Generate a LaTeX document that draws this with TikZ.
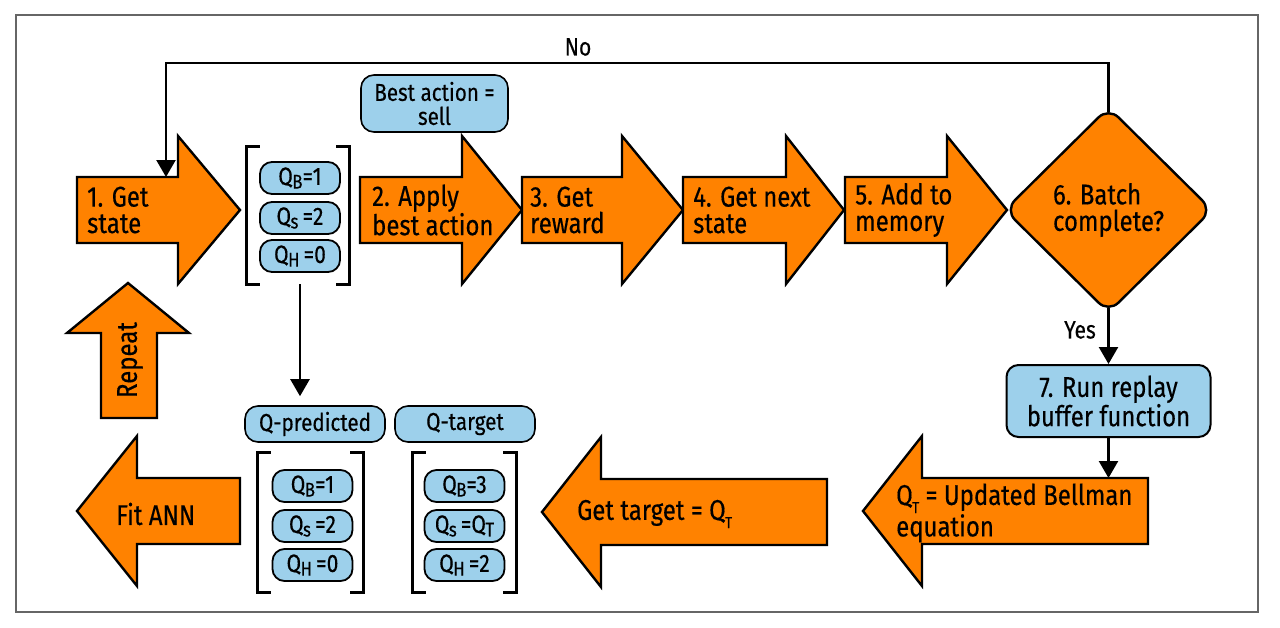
\documentclass[tikz,border=0pt]{standalone}
\usepackage{fontspec}
\setmainfont{Fira Sans}[FakeStretch=0.84,FakeBold=0.35]
\usetikzlibrary{shapes.geometric,arrows.meta}
\definecolor{orng}{HTML}{FF8200}
\definecolor{lblue}{HTML}{9DD0EB}
\newcommand{\qsb}[1]{\kern-0.5pt\raisebox{-0.28ex}{\fontsize{20}{20}\selectfont #1}}
\newcommand{\qtsb}[1]{\kern-0.5pt\raisebox{-0.55ex}{\fontsize{16}{16}\selectfont #1}}
\newcommand{\rarw}[4]{\draw[bigarrow] (#1,{#4-33}) -- (#2,{#4-33}) -- (#2,{#4-74}) -- (#3,#4) -- (#2,{#4+74}) -- (#2,{#4+33}) -- (#1,{#4+33}) -- cycle;}
\newcommand{\larw}[4]{\draw[bigarrow] (#1,{#4-33}) -- (#2,{#4-33}) -- (#2,{#4-75}) -- (#3,#4) -- (#2,{#4+75}) -- (#2,{#4+33}) -- (#1,{#4+33}) -- cycle;}
\newcommand{\brackets}[1]{%
  \draw[brk] ([xshift=13pt]#1.north west) -- (#1.north west) -- (#1.south west) -- ([xshift=13pt]#1.south west);
  \draw[brk] ([xshift=-13pt]#1.north east) -- (#1.north east) -- (#1.south east) -- ([xshift=-13pt]#1.south east);}
\begin{document}
\begin{tikzpicture}[x=1pt,y=-1pt,
  bigarrow/.style={draw=black,line width=2.4pt,fill=orng,line join=miter},
  lbl/.style={font=\fontsize{28.5}{26.5}\selectfont,align=left,inner sep=0pt},
  pill/.style={draw=black,line width=1.8pt,fill=lblue,rounded corners=12pt,minimum width=80pt,minimum height=32pt,inner sep=0pt,font=\fontsize{25}{25}\selectfont},
  tag/.style={draw=black,line width=1.6pt,fill=lblue,rounded corners=13pt,inner sep=0pt,font=\fontsize{24.5}{24}\selectfont,align=center},
  grp/.style={minimum width=#1,inner sep=0pt,minimum height=137pt},
  brk/.style={line width=3pt},
  conn/.style={line width=2.4pt,-{Triangle[width=19pt,length=17pt]}},
  small/.style={font=\fontsize{25}{25}\selectfont,inner sep=0pt}
]
\useasboundingbox (0,0) rectangle (1280,627);
\draw[gray!80!black,line width=1.5pt] (16,15) rectangle (1258,612);

% top row arrows
\rarw{77}{178}{240}{210}
\rarw{360}{462}{522}{210}
\rarw{522}{622}{683}{210}
\rarw{683}{786}{844}{210}
\rarw{845}{947}{1007}{210}
\node[lbl,anchor=west] (a1) at (87,210) {1. Get\\state};
\node[lbl,anchor=west] (a2) at (372,210) {2. Apply\\best action};
\node[lbl,anchor=west] (a3) at (530,210) {3. Get\\reward};
\node[lbl,anchor=west] (a4) at (693,210) {4. Get next\\state};
\node[lbl,anchor=west] (a5) at (855,210) {5. Add to\\memory};

% diamond
\node[diamond,draw=black,line width=2.4pt,fill=orng,minimum width=208pt,minimum height=206pt,rounded corners=14pt,lbl] (d6) at (1108.5,210) {6. Batch\\complete?};

% replay box
\node[tag,minimum width=204pt,minimum height=72pt,rounded corners=12pt,line width=2pt,font=\fontsize{28.5}{26.5}\selectfont] (b7) at (1108.5,401) {7. Run replay\\buffer function};

% best action
\node[tag,minimum width=147pt,minimum height=57pt] (best) at (434.5,103.5) {Best action =\\sell};

% first Q group
\node[grp=102pt] (g1) at (298,215.5) {};
\brackets{g1}
\node[pill] (p1b) at (300,178) {Q\qsb{B}=1};
\node[pill] (p1s) at (300,218) {Q\qsb{s}\,=2};
\node[pill] (p1h) at (300,256) {Q\qsb{H}\,=0};

% repeat arrow
\draw[bigarrow] (101,418) -- (101,333) -- (67,333) -- (128,283) -- (189,333) -- (157,333) -- (157,418) -- cycle;
\node[lbl,rotate=90] (rep) at (130,360) {Repeat};

% bottom arrows
\larw{240}{137}{77}{511}
\larw{827}{601}{542}{512}
\larw{1148}{922}{863}{511}
\node[lbl,anchor=west] (fit) at (116,514) {Fit ANN};
\node[lbl,anchor=west] (gt) at (577,514) {Get target = Q\qtsb{T}};
\node[lbl,anchor=west] (bell) at (896,513) {Q\qtsb{T} = Updated Bellman\\equation};
\coordinate (bellTop) at (1108.5,478);

% tags
\node[tag,minimum width=140pt,minimum height=36pt] (qp) at (315,424) {Q-predicted};
\node[tag,minimum width=140pt,minimum height=36pt] (qt) at (465,424) {Q-target};

% predicted group
\node[grp=105pt,minimum height=139pt] (g2) at (310.5,522.5) {};
\brackets{g2}
\node[pill] (p2b) at (312.5,486) {Q\qsb{B}=1};
\node[pill] (p2s) at (312.5,526) {Q\qsb{s}\,=2};
\node[pill] (p2h) at (312.5,565) {Q\qsb{H}\,=0};

% target group
\node[grp=103pt,minimum height=139pt] (g3) at (464.5,522.5) {};
\brackets{g3}
\node[pill] (p3b) at (464.5,486) {Q\qsb{B}=3};
\node[pill] (p3s) at (464.5,526) {Q\qsb{s}\,=Q\qsb{T}};
\node[pill] (p3h) at (464.5,565) {Q\qsb{H}\,=2};

% connectors
\coordinate (a1top) at (166,177);
\coordinate (topY) at (0,63);
\draw[conn,shorten <=-6pt] (d6.north) -- (d6.north |- topY) -| (a1top);
\node[small] (no) at (578,47) {No};
\draw[conn,shorten <=-6pt] (d6.south) -- (b7.north);
\node[small] (yes) at (1080,330) {Yes};
\draw[conn] (b7.south) -- (bellTop);
\draw[conn,shorten >=9pt] (g1.south -| p1h.south) -- (p1h.south |- qp.north);
\end{tikzpicture}
\end{document}
